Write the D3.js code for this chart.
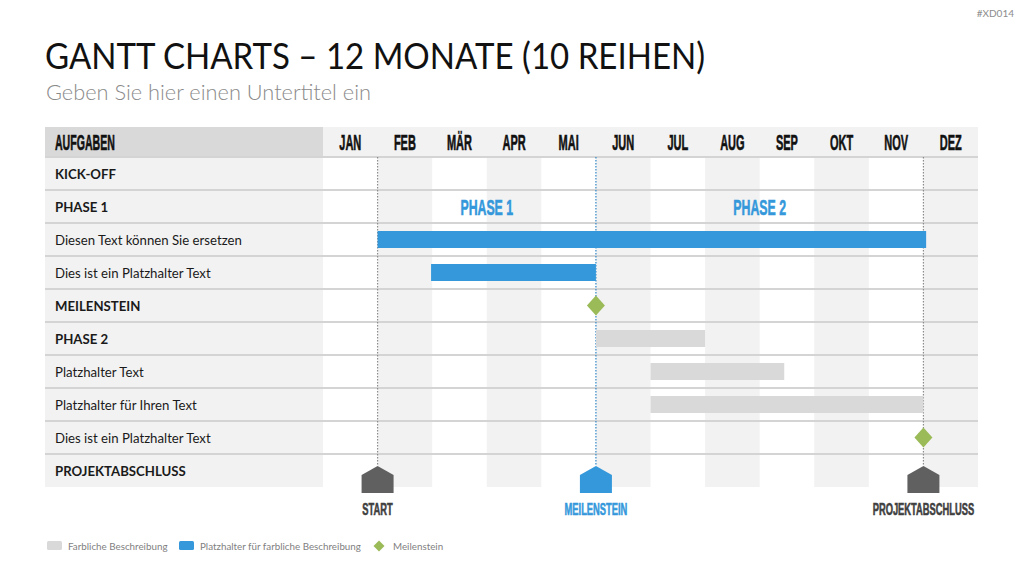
<!DOCTYPE html>
<html>
<head>
<meta charset="utf-8">
<script src="https://cdn.jsdelivr.net/npm/d3@7"></script>
<style>
  body { margin: 0; background: #fff; }
  svg { display: block; }
</style>
</head>
<body>
<svg id="chart" width="1024" height="576"></svg>
<script>
// data
const months = ['JAN', 'FEB', 'MÄR', 'APR', 'MAI', 'JUN', 'JUL', 'AUG', 'SEP', 'OKT', 'NOV', 'DEZ'];
const taskLabels = ['KICK-OFF', 'PHASE 1', 'Diesen Text können Sie ersetzen', 'Dies ist ein Platzhalter Text',
	'MEILENSTEIN', 'PHASE 2', 'Platzhalter Text', 'Platzhalter für Ihren Text', 'Dies ist ein Platzhalter Text', 'PROJEKTABSCHLUSS'];
const taskBold = [true, true, false, false, true, true, false, false, false, true];

// bars: row index, start and end in months from jan 1st
const barRows = [2, 3, 5, 6, 7];
const barStart = [1, 1.98, 5, 6, 6];
const barEnd = [11.05, 5, 7, 8.45, 11];
const barKind = ['blue', 'blue', 'gray', 'gray', 'gray'];

const milestoneRows = [4, 8];
const milestoneAt = [5, 11];

const phaseNames = ['PHASE 1', 'PHASE 2'];
const phaseAt = [3, 8];

const markerNames = ['START', 'MEILENSTEIN', 'PROJEKTABSCHLUSS'];
const markerAt = [1, 5, 11];
const markerKind = ['dark', 'blue', 'dark'];

const legendLabels = ['Farbliche Beschreibung', 'Platzhalter für farbliche Beschreibung', 'Meilenstein'];
const legendKind = ['gray', 'blue', 'diamond'];

const colors = { blue: '#3498db', gray: '#d9d9d9', dark: '#606060', green: '#9bbb59', band: '#f2f2f2' };

const svg = d3.select('#chart');

const tableLeft = 45, labelRight = 323, tableRight = 978;
const headTop = 127, headBottom = 157, rowH = 33;

const x = d3.scaleLinear().domain([0, 12]).range([labelRight, tableRight]);
const y = d3.scaleBand().domain(d3.range(taskLabels.length))
	.range([headBottom, headBottom + rowH * taskLabels.length]).padding(0);

// condensed heavy caps like the template font
condensed = function(sel, tx, ty, sx){
	return sel.attr('transform', 'translate(' + tx + ',' + ty + ') scale(' + sx + ',1)')
		.style('font-family', '"Liberation Sans", Arial, sans-serif')
		.style('font-weight', 700)
		.attr('stroke-width', 0.6);
};

// title block
svg.append('text').attr('x', 1014).attr('y', 17).attr('text-anchor', 'end')
	.style('font-family', 'Lato, sans-serif').style('font-size', '10px').attr('fill', '#8c8c8c')
	.text('#XD014');

svg.append('text').attr('x', 45).attr('y', 69)
	.style('font-family', 'Lato, sans-serif').style('font-size', '37px').attr('fill', '#111')
	.attr('textLength', 660).attr('lengthAdjust', 'spacingAndGlyphs')
	.text('GANTT CHARTS – 12 MONATE (10 REIHEN)');

svg.append('text').attr('x', 46).attr('y', 100)
	.style('font-family', 'Lato, sans-serif').style('font-size', '21px').style('font-weight', 300).attr('fill', '#8a8a8a')
	.attr('textLength', 325).attr('lengthAdjust', 'spacingAndGlyphs')
	.text('Geben Sie hier einen Untertitel ein');

// header row
svg.append('rect').attr('x', tableLeft).attr('y', headTop).attr('width', labelRight - tableLeft)
	.attr('height', headBottom - headTop).attr('fill', '#d9d9d9');
svg.append('rect').attr('x', labelRight).attr('y', headTop).attr('width', tableRight - labelRight)
	.attr('height', headBottom - headTop).attr('fill', colors.band);

svg.append('text').call(condensed, 55, 150, 0.48)
	.style('font-size', '22px').attr('fill', '#111').attr('stroke', '#111')
	.text('AUFGABEN');

svg.append('g').selectAll('text')
	.data(months)
	.enter()
	.append('text')
	.each(function(d, i) { condensed(d3.select(this), x(i + 0.5), 150, 0.5); })
	.attr('text-anchor', 'middle')
	.style('font-size', '22px')
	.attr('fill', '#111').attr('stroke', '#111')
	.text(function(d) { return d; });

// body: label column and month bands
const bodyBottom = y.range()[1];
svg.append('rect').attr('x', tableLeft).attr('y', headBottom).attr('width', labelRight - tableLeft)
	.attr('height', bodyBottom - headBottom).attr('fill', colors.band);

svg.append('g').selectAll('rect')
	.data(months)
	.enter()
	.filter(function(d, i) { return i % 2 == 1; })
	.append('rect')
	.attr('x', function(d) { return x(months.indexOf(d)); })
	.attr('y', headBottom)
	.attr('width', x(1) - x(0))
	.attr('height', bodyBottom - headBottom)
	.attr('fill', colors.band);

// row lines
svg.append('g').selectAll('line')
	.data(d3.range(taskLabels.length))
	.enter()
	.append('line')
	.attr('x1', tableLeft).attr('x2', tableRight)
	.attr('y1', function(d) { return y(d); })
	.attr('y2', function(d) { return y(d); })
	.attr('stroke', '#d4d4d4').attr('stroke-width', 2);

// task labels
svg.append('g').selectAll('text')
	.data(taskLabels)
	.enter()
	.append('text')
	.attr('x', 55)
	.attr('y', function(d, i) { return y(i) + rowH / 2 + 5; })
	.style('font-family', 'Lato, sans-serif').style('font-size', '13.2px')
	.style('font-weight', function(d, i) { return taskBold[i] ? 700 : 400; })
	.attr('fill', '#1a1a1a')
	.text(function(d) { return d; });

// dotted guide lines
const houseTop = 466;
svg.append('g').selectAll('line')
	.data(markerAt)
	.enter()
	.append('line')
	.attr('x1', function(d) { return x(d); })
	.attr('x2', function(d) { return x(d); })
	.attr('y1', headBottom).attr('y2', houseTop)
	.attr('stroke', function(d, i) { return markerKind[i] == 'blue' ? '#2f86c8' : '#8c8c8c'; })
	.attr('stroke-width', 1.2).attr('stroke-dasharray', '1.5,1.5');

// phase titles
svg.append('g').selectAll('text')
	.data(phaseNames)
	.enter()
	.append('text')
	.each(function(d, i) { condensed(d3.select(this), x(phaseAt[i]), y(1) + rowH / 2 + 8, 0.56); })
	.attr('text-anchor', 'middle')
	.style('font-size', '22px')
	.attr('fill', colors.blue).attr('stroke', colors.blue)
	.text(function(d) { return d; });

// bars
const barH = 17;
svg.append('g').selectAll('rect')
	.data(barRows)
	.enter()
	.append('rect')
	.attr('x', function(d, i) { return x(barStart[i]); })
	.attr('y', function(d) { return y(d) + (rowH - barH) / 2; })
	.attr('width', function(d, i) { return x(barEnd[i]) - x(barStart[i]); })
	.attr('height', barH)
	.attr('fill', function(d, i) { return colors[barKind[i]]; });

// milestone diamonds
diamond = function(cx, cy, hw, hh){
	return 'M' + cx + ',' + (cy - hh) + 'L' + (cx + hw) + ',' + cy + 'L' + cx + ',' + (cy + hh) + 'L' + (cx - hw) + ',' + cy + 'Z';
};

svg.append('g').selectAll('path')
	.data(milestoneRows)
	.enter()
	.append('path')
	.attr('d', function(d, i) { return diamond(x(milestoneAt[i]), y(d) + rowH / 2, 9, 10); })
	.attr('fill', colors.green);

// house markers in the last row
house = function(cx){
	return 'M' + cx + ',' + houseTop + 'L' + (cx + 16) + ',' + (houseTop + 9) + 'L' + (cx + 16) + ',' + (houseTop + 27)
		+ 'L' + (cx - 16) + ',' + (houseTop + 27) + 'L' + (cx - 16) + ',' + (houseTop + 9) + 'Z';
};

svg.append('g').selectAll('path')
	.data(markerAt)
	.enter()
	.append('path')
	.attr('d', function(d) { return house(x(d)); })
	.attr('fill', function(d, i) { return colors[markerKind[i]]; });

svg.append('g').selectAll('text')
	.data(markerNames)
	.enter()
	.append('text')
	.each(function(d, i) { condensed(d3.select(this), x(markerAt[i]), 515, 0.55); })
	.attr('text-anchor', 'middle')
	.style('font-size', '17px')
	.attr('fill', function(d, i) { return markerKind[i] == 'blue' ? colors.blue : '#404040'; })
	.attr('stroke', function(d, i) { return markerKind[i] == 'blue' ? colors.blue : '#404040'; })
	.text(function(d) { return d; });

// legend
const legendX = [47, 179, 372];
const legendTextX = [68, 200, 393];
const legY = 546;
const leg = svg.append('g');
legendKind.forEach(function(k, i){
	if (k == 'diamond'){
		leg.append('path').attr('d', diamond(legendX[i] + 7, legY, 5.5, 5.5)).attr('fill', colors.green);
	}
	else{
		leg.append('rect').attr('x', legendX[i]).attr('y', legY - 5).attr('width', 15).attr('height', 9)
			.attr('rx', 1.5).attr('fill', colors[k]);
	}
	leg.append('text').attr('x', legendTextX[i]).attr('y', legY + 4)
		.style('font-family', 'Lato, sans-serif').style('font-size', '9.8px').attr('fill', '#7f7f7f')
		.text(legendLabels[i]);
});
</script>
</body>
</html>
